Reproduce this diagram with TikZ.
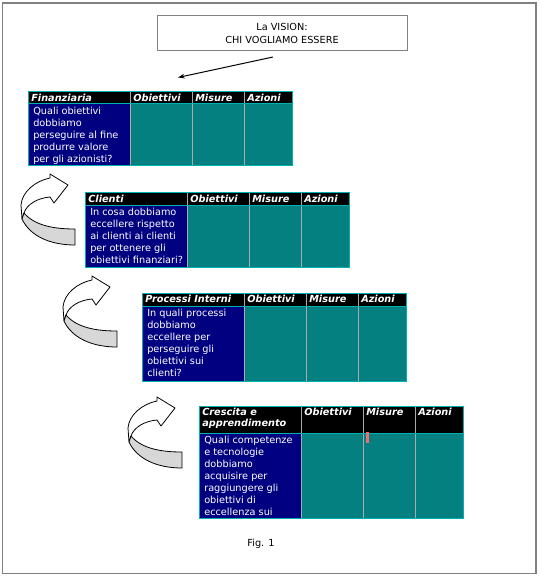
\documentclass[tikz,border=0pt]{standalone}
\usepackage{fontspec}
\setmainfont{DejaVu Sans}
\usetikzlibrary{arrows.meta}
\definecolor{navyc}{RGB}{0,0,128}
\definecolor{tealc}{RGB}{4,128,128}
\definecolor{cyanb}{RGB}{0,176,176}
\definecolor{sepc}{RGB}{170,170,170}
\definecolor{grayarr}{RGB}{215,215,215}
\definecolor{framec}{RGB}{128,128,128}
\definecolor{markc}{RGB}{240,110,110}
\newcommand\bsctab[7]{%
 \begin{scope}[shift={(#2,#3)}]
  \fill[black] (0,0) rectangle (264,#4);
  \fill[navyc] (0,#4) rectangle (102,{#4+#5});
  \fill[tealc] (102,#4) rectangle (264,{#4+#5});
  \draw[sepline] (102,0) -- (102,{#4+#5}) (164,0) -- (164,{#4+#5}) (216,0) -- (216,{#4+#5});
  \draw[cyanline] (0,#4) -- (264,#4);
  \draw[cyanline] (0,0) rectangle (264,{#4+#5});
  \node[hdrtxt] (#1-h) at (3,2.3) {#6};
  \node[hdrtxt] (#1-o) at (105,2.3) {Obiettivi};
  \node[hdrtxt] (#1-m) at (167,2.3) {Misure};
  \node[hdrtxt] (#1-a) at (219,2.3) {Azioni};
  \node[bodytxt] (#1-b) at (5,{#4+2.5}) {#7};
 \end{scope}}
\newcommand\bsccurve[2]{%
 \begin{scope}[shift={(#1,#2)}]
  \filldraw[curvefill, fill=white] (22,219) -- (21,205) .. controls (22,192) and (35,181) .. (50,178) -- (50,174) -- (68,185) -- (54,203) -- (50,197) .. controls (38,198) and (27,204) .. (24,213) -- cycle;
  \filldraw[curvefill, fill=grayarr] (24,213) .. controls (35,226) and (55,229) .. (75,229) -- (75,245) .. controls (50,245) and (30,236) .. (22,219) -- cycle;
 \end{scope}}
\begin{document}
\begin{tikzpicture}[x=0.75pt, y=-0.75pt,
  hdrtxt/.style={font=\fontsize{7.3}{8}\selectfont\bfseries\itshape, text=white, inner sep=0pt, anchor=north west, align=left},
  bodytxt/.style={font=\fontsize{7.3}{9}\selectfont, text=white, inner sep=0pt, anchor=north west, align=left},
  sepline/.style={draw=sepc, line width=0.75pt},
  cyanline/.style={draw=cyanb, line width=0.75pt},
  curvefill/.style={draw=black, line width=0.6pt, line join=round},
  plaintxt/.style={font=\fontsize{7.3}{9.75}\selectfont, align=center, inner sep=0pt}]
\useasboundingbox (0,0) rectangle (542,577);
\fill[white] (0,0) rectangle (542,577);
\draw[framec, line width=1.2pt] (2.5,3) rectangle (536,573.5);
% vision box
\draw[framec, line width=0.75pt] (157,16) rectangle (407,50.5);
\node[plaintxt] (vision) at (282,33.5) {La VISION:\\CHI VOGLIAMO ESSERE};
\coordinate (arrS) at (273,57);
\coordinate (arrE) at (178,77.5);
\draw[black, line width=0.75pt, -{Stealth[length=5pt,width=3.5pt]}] (arrS) -- (arrE);
% tables
\bsctab{fin}{28}{92}{12}{62}{Finanziaria}{Quali obiettivi\\dobbiamo\\perseguire al fine\\produrre valore\\per gli azionisti?}
\bsctab{cli}{85}{193}{12}{62}{Clienti}{In cosa dobbiamo\\eccellere rispetto\\ai clienti ai clienti\\per ottenere gli\\obiettivi finanziari?}
\bsctab{pro}{142}{293}{13}{75}{Processi Interni}{In quali processi\\dobbiamo\\eccellere per\\perseguire gli\\obiettivi sui\\clienti?}
\bsctab{cre}{199}{406}{27}{85}{Crescita e\\apprendimento}{Quali competenze\\e tecnologie\\dobbiamo\\acquisire per\\raggiungere gli\\obiettivi di\\eccellenza sui}
\fill[markc] (366,432) rectangle (368.5,443);
% curved arrows
\bsccurve{0}{0}
\bsccurve{42}{102}
\bsccurve{107}{223}
\node[plaintxt, anchor=base] (fig) at (261,546) {Fig. 1};
\end{tikzpicture}
\end{document}
